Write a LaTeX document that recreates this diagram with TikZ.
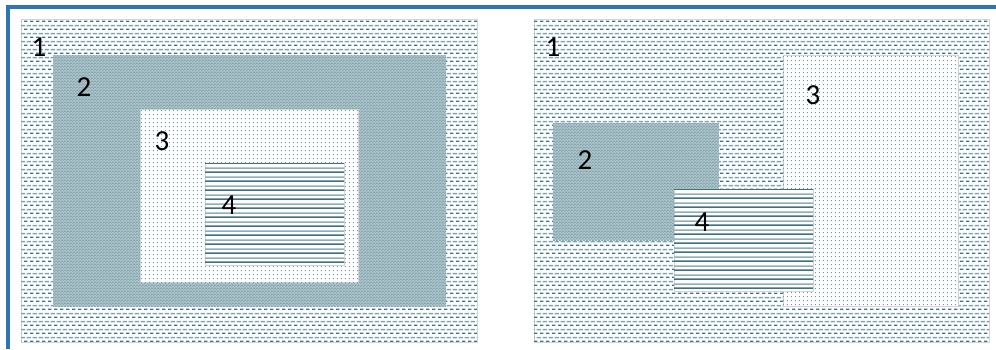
\documentclass[tikz,border=0pt]{standalone}
\usepackage{fontspec}
\setmainfont{Carlito}
\usetikzlibrary{patterns}
\definecolor{frameblue}{HTML}{2E75B6}
\definecolor{dashdark}{HTML}{3F7385}
\definecolor{dashlight}{HTML}{7FA3AF}
\definecolor{dotdark}{HTML}{7398A4}
\definecolor{dotlight}{HTML}{CBD9DE}
\definecolor{checkbase}{HTML}{ADC4CB}
\definecolor{checkdark}{HTML}{86A6B0}
\definecolor{linedark}{HTML}{3E7183}
\definecolor{linelight}{HTML}{8FAEB8}
\definecolor{panelborder}{HTML}{D4D4D4}

\pgfdeclarepatterninherentlycolored{bgdash}{\pgfpointorigin}{\pgfpoint{6pt}{8.2pt}}{\pgfpoint{6pt}{8.2pt}}{%
  \pgfsetfillcolor{dashdark}%
  \pgfpathrectangle{\pgfpoint{0pt}{0pt}}{\pgfpoint{4pt}{1.6pt}}\pgfusepath{fill}%
  \pgfsetfillcolor{dashlight}%
  \pgfpathrectangle{\pgfpoint{3pt}{4.1pt}}{\pgfpoint{3pt}{1.6pt}}\pgfusepath{fill}%
  \pgfpathrectangle{\pgfpoint{0pt}{4.1pt}}{\pgfpoint{1pt}{1.6pt}}\pgfusepath{fill}%
}
\pgfdeclarepatterninherentlycolored{sparsedots}{\pgfpointorigin}{\pgfpoint{4.4pt}{4.4pt}}{\pgfpoint{4.4pt}{4.4pt}}{%
  \pgfsetfillcolor{dotdark}%
  \pgfpathrectangle{\pgfpoint{1pt}{1pt}}{\pgfpoint{1pt}{1pt}}\pgfusepath{fill}%
  \pgfsetfillcolor{dotlight}%
  \pgfpathrectangle{\pgfpoint{3.2pt}{3.2pt}}{\pgfpoint{1pt}{1pt}}\pgfusepath{fill}%
}
\pgfdeclarepatterninherentlycolored{checker}{\pgfpointorigin}{\pgfpoint{3pt}{3pt}}{\pgfpoint{3pt}{3pt}}{%
  \pgfsetfillcolor{checkdark}%
  \pgfpathrectangle{\pgfpoint{0pt}{0pt}}{\pgfpoint{1.5pt}{1.5pt}}\pgfusepath{fill}%
  \pgfpathrectangle{\pgfpoint{1.5pt}{1.5pt}}{\pgfpoint{1.5pt}{1.5pt}}\pgfusepath{fill}%
}
\pgfdeclarepatterninherentlycolored{hlines}{\pgfpointorigin}{\pgfpoint{8pt}{8.6pt}}{\pgfpoint{8pt}{8.6pt}}{%
  \pgfsetfillcolor{linedark}%
  \pgfpathrectangle{\pgfpoint{0pt}{0pt}}{\pgfpoint{8pt}{1.6pt}}\pgfusepath{fill}%
  \pgfsetfillcolor{linelight}%
  \pgfpathrectangle{\pgfpoint{0pt}{4.3pt}}{\pgfpoint{8pt}{1.6pt}}\pgfusepath{fill}%
}

\tikzset{
  panel/.style={draw=panelborder, line width=0.8pt, fill=white, postaction={pattern=bgdash}},
  regiontwo/.style={fill=checkbase, postaction={pattern=checker}},
  regionthree/.style={draw=panelborder, line width=0.8pt, fill=white, postaction={pattern=sparsedots}},
  regionfour/.style={draw=panelborder, line width=0.8pt, fill=white, postaction={pattern=hlines}},
  lbl/.style={font=\fontsize{29}{29}\selectfont, text=black, inner sep=0pt}
}

\begin{document}
\begin{tikzpicture}[x=1pt, y=-1pt]
\useasboundingbox (0,0) rectangle (996,349);
\fill[white] (0,0) rectangle (996,349);

% outer frame
\fill[frameblue] (6,5) rectangle (996,8.5);
\fill[frameblue] (6,5) rectangle (9.5,349);

% left panel
\path[panel] (21,19) rectangle (477,342);
\path[regiontwo] (53,55) rectangle (446,306);
\path[regionthree] (140,109) rectangle (358,282);
\path[regionfour] (205,163) rectangle (344,265);
\node[lbl] (L1) at (39,47) {1};
\node[lbl] (L2) at (84,87) {2};
\node[lbl] (L3) at (162,141) {3};
\node[lbl] (L4) at (229,205) {4};

% right panel
\path[panel] (534,19) rectangle (989,342);
\path[regionthree] (783,55) rectangle (958,306);
\path[regiontwo] (553,123) rectangle (719,240);
\path[regionfour] (674,189) rectangle (813,291);
\node[lbl] (R1) at (553,47) {1};
\node[lbl] (R3) at (813,95) {3};
\node[lbl] (R2) at (585,160) {2};
\node[lbl] (R4) at (702,222) {4};
\end{tikzpicture}
\end{document}
